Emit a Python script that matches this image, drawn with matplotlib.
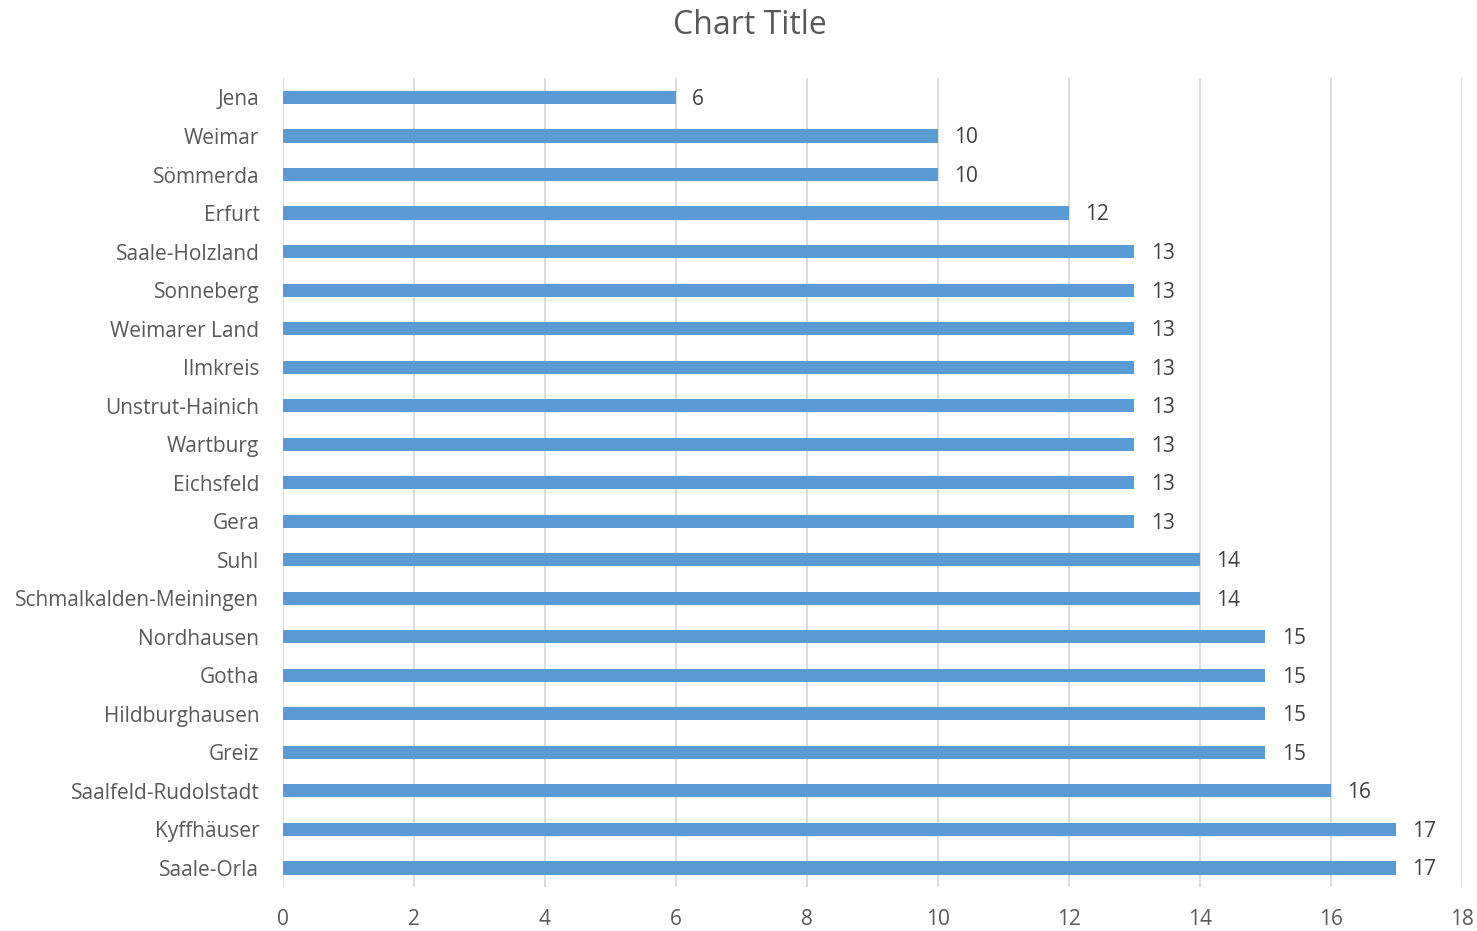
import matplotlib.pyplot as plt

plt.rcParams['font.family'] = ['Open Sans', 'DejaVu Sans']

# Reihenfolge von unten nach oben
regions = ['Saale-Orla', 'Kyffhäuser', 'Saalfeld-Rudolstadt', 'Greiz', 'Hildburghausen',
           'Gotha', 'Nordhausen', 'Schmalkalden-Meiningen', 'Suhl', 'Gera', 'Eichsfeld',
           'Wartburg', 'Unstrut-Hainich', 'Ilmkreis', 'Weimarer Land', 'Sonneberg',
           'Saale-Holzland', 'Erfurt', 'Sömmerda', 'Weimar', 'Jena']
values = [17, 17, 16, 15, 15, 15, 15, 14, 14, 13, 13, 13, 13, 13, 13, 13, 13, 12, 10, 10, 6]
xticks = [0, 2, 4, 6, 8, 10, 12, 14, 16, 18]

fig = plt.figure(figsize=(14.77, 9.31), dpi=100)
ax = fig.add_axes([0.1916, 0.047, 0.798, 0.869])

y = range(len(regions))
ax.barh(y, values, height=0.34, color='#5B9BD5', zorder=2)
for yi, v in zip(y, values):
    ax.text(v + 0.25, yi - 0.05, str(v), va='center', ha='left', fontsize=15, color='#404040')

ax.set_xlim(0, 18)
ax.set_ylim(-0.5, len(regions) - 0.5)
ax.set_xticks(xticks)
ax.set_yticks(list(y))
ax.set_yticklabels(regions)
ax.tick_params(axis='both', length=0, labelsize=15, labelcolor='#595959')
ax.tick_params(axis='y', pad=17)
ax.tick_params(axis='x', pad=16)
ax.xaxis.grid(True, color='#D9D9D9', linewidth=1.3, zorder=0)
for s in ax.spines.values():
    s.set_visible(False)

fig.text(0.508, 0.973, 'Chart Title', ha='center', va='center', fontsize=23, color='#595959')

fig.savefig('out.png', dpi=100)
